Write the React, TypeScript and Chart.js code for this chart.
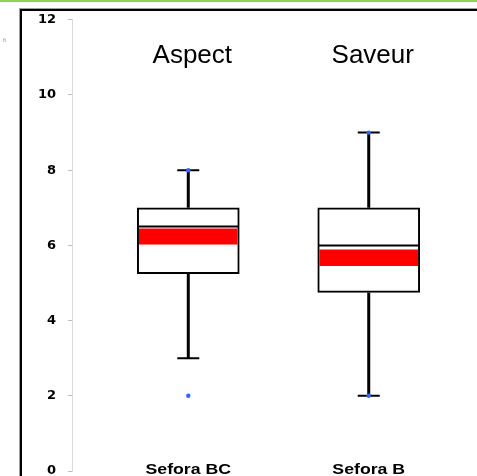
import React, { useEffect, useRef } from "react";
import { Chart, registerables } from "chart.js";

Chart.register(...registerables);

const CATEGORIES = ["Sefora BC", "Sefora B"];
const TITLES = ["Aspect", "Saveur"];
const WHISKER_LOW = [3, 2];
const Q1 = [5.25, 4.75];
const MEDIAN = [6.5, 6];
const Q3 = [7, 7];
const WHISKER_HIGH = [8, 9];
const BAND_LOW = [6.03, 5.46];
const BAND_HIGH = [6.44, 5.88];
const MIN_VALUES = [2, 2];
const MAX_VALUES = [8, 9];
const Y_MIN = 0;
const Y_MAX = 12;
const Y_STEP = 2;
const X_MIN = -0.6444;
const X_MAX = 1.5778;

const boxPlugin = {
  id: "boxExtras",
  beforeDraw(chart: any) {
    const ctx = chart.ctx;
    ctx.save();
    ctx.fillStyle = "#ffffff";
    ctx.fillRect(0, 0, chart.width, chart.height);
    // green strip at top
    ctx.fillStyle = "#92d050";
    ctx.fillRect(0, 0, chart.width, 2);
    // frame
    ctx.fillStyle = "#a0a0a0";
    ctx.fillRect(19, 8, chart.width, 1);
    ctx.fillRect(19, 8, 1, chart.height);
    ctx.fillStyle = "#000000";
    ctx.fillRect(20, 9, chart.width, 2);
    ctx.fillRect(20, 9, 2, chart.height);
    // tiny note
    ctx.fillStyle = "#888888";
    ctx.font = "5px 'Liberation Sans', Arial, sans-serif";
    ctx.textAlign = "left";
    ctx.textBaseline = "middle";
    ctx.fillText("ft", 3, 41);
    ctx.restore();
  },
  beforeDatasetsDraw(chart: any) {
    const ctx = chart.ctx;
    const xs = chart.scales.x;
    const ys = chart.scales.y;
    ctx.save();
    ctx.strokeStyle = "#000000";
    CATEGORIES.forEach((_, i) => {
      const cx = xs.getPixelForValue(i);
      ctx.lineWidth = 3;
      ctx.beginPath();
      ctx.moveTo(cx, ys.getPixelForValue(Q3[i]));
      ctx.lineTo(cx, ys.getPixelForValue(WHISKER_HIGH[i]));
      ctx.moveTo(cx, ys.getPixelForValue(Q1[i]));
      ctx.lineTo(cx, ys.getPixelForValue(WHISKER_LOW[i]));
      ctx.stroke();
      ctx.lineWidth = 2;
      ctx.beginPath();
      const hy = ys.getPixelForValue(WHISKER_HIGH[i]);
      const ly = ys.getPixelForValue(WHISKER_LOW[i]);
      ctx.moveTo(cx - 11, hy);
      ctx.lineTo(cx + 11, hy);
      ctx.moveTo(cx - 11, ly);
      ctx.lineTo(cx + 11, ly);
      ctx.stroke();
    });
    ctx.restore();
  },
  afterDatasetsDraw(chart: any) {
    const ctx = chart.ctx;
    const xs = chart.scales.x;
    const ys = chart.scales.y;
    ctx.save();
    ctx.strokeStyle = "#000000";
    ctx.lineWidth = 2;
    CATEGORIES.forEach((_, i) => {
      const cx = xs.getPixelForValue(i);
      const my = ys.getPixelForValue(MEDIAN[i]);
      ctx.beginPath();
      ctx.moveTo(cx - 50, my);
      ctx.lineTo(cx + 50, my);
      ctx.stroke();
    });
    ctx.restore();
  },
  afterDraw(chart: any) {
    const ctx = chart.ctx;
    const xs = chart.scales.x;
    const ys = chart.scales.y;
    ctx.save();
    ctx.fillStyle = "#000000";
    ctx.textAlign = "center";
    ctx.textBaseline = "alphabetic";
    ctx.font = "26px 'Liberation Sans', Arial, sans-serif";
    TITLES.forEach((t, i) => {
      ctx.fillText(t, xs.getPixelForValue(i) + 4, ys.getPixelForValue(Y_MAX) + 43);
    });
    ctx.font = "bold 15px 'Liberation Sans', Arial, sans-serif";
    CATEGORIES.forEach((c, i) => {
      const cx = xs.getPixelForValue(i);
      const by = ys.getPixelForValue(Y_MIN) + 3;
      ctx.save();
      ctx.translate(cx, by);
      ctx.scale(1.18, 1);
      ctx.fillText(c, 0, 0);
      ctx.restore();
    });
    ctx.restore();
  },
};

export default function App() {
  const ref = useRef<HTMLCanvasElement | null>(null);
  useEffect(() => {
    if (!ref.current) return;
    const chart = new Chart(ref.current, {
      type: "bar",
      data: {
        datasets: [
          {
            type: "line",
            label: "min / max",
            data: CATEGORIES.flatMap((_, i) => [
              { x: i, y: MAX_VALUES[i] },
              { x: i, y: MIN_VALUES[i] },
            ]),
            showLine: false,
            pointRadius: 2.2,
            pointBackgroundColor: "#3366ff",
            pointBorderWidth: 0,
            order: 1,
          } as any,
          {
            type: "bar",
            label: "band",
            data: CATEGORIES.map((_, i) => ({ x: i, y: [BAND_LOW[i], BAND_HIGH[i]] })),
            backgroundColor: "#ff0000",
            borderWidth: 0,
            barThickness: 98,
            grouped: false,
            order: 2,
          } as any,
          {
            type: "bar",
            label: "box",
            data: CATEGORIES.map((_, i) => ({ x: i, y: [Q1[i], Q3[i]] })),
            backgroundColor: "#ffffff",
            borderColor: "#000000",
            borderWidth: 2,
            borderSkipped: false,
            barThickness: 102,
            grouped: false,
            order: 3,
          } as any,
        ],
      },
      options: {
        animation: false,
        responsive: false,
        devicePixelRatio: 1,
        layout: { padding: { left: 0, top: 18, right: 0, bottom: 29 } },
        plugins: {
          legend: { display: false },
          tooltip: { enabled: false },
          title: { display: false },
        },
        scales: {
          x: {
            type: "linear",
            min: X_MIN,
            max: X_MAX,
            offset: false,
            display: false,
          },
          y: {
            min: Y_MIN,
            max: Y_MAX,
            afterFit: (s: any) => {
              s.width = 72;
            },
            ticks: {
              stepSize: Y_STEP,
              padding: 12,
              color: "#000000",
              font: { family: "'DejaVu Sans', sans-serif", weight: "bold", size: 13 },
            },
            grid: {
              drawOnChartArea: false,
              drawTicks: true,
              tickLength: 4,
              color: "#bfbfbf",
            },
            border: { display: true, color: "#d9d9d9", width: 1 },
          },
        },
      } as any,
      plugins: [boxPlugin],
    });
    return () => chart.destroy();
  }, []);
  return (
    <div
      style={{
        position: "fixed",
        left: 0,
        top: 0,
        width: 477,
        height: 476,
        overflow: "hidden",
        background: "#fff",
      }}
    >
      <canvas ref={ref} width={477} height={500} style={{ width: 477, height: 500, display: "block" }} />
    </div>
  );
}
